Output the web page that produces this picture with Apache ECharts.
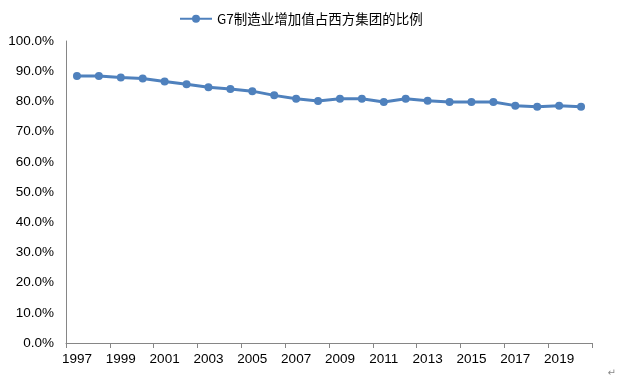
<!DOCTYPE html>
<html>
<head>
<meta charset="utf-8">
<script src="https://cdn.jsdelivr.net/npm/echarts@6/dist/echarts.min.js"></script>
<style>html,body{margin:0;padding:0;background:#fff;}#c{width:618px;height:380px;}</style>
</head>
<body>
<div id="c"></div>
<script>
var years = ['1997','1998','1999','2000','2001','2002','2003','2004','2005','2006','2007','2008','2009','2010','2011','2012','2013','2014','2015','2016','2017','2018','2019','2020'];
var seriesName = 'G7制造业增加值占西方集团的比例';
var shareValues = [88.4,88.4,87.9,87.6,86.6,85.7,84.7,84.1,83.4,82.0,80.9,80.1,80.9,80.9,79.8,80.9,80.2,79.8,79.8,79.8,78.6,78.2,78.6,78.2];
var yMin = 0, yMax = 100, yStep = 10;

var chart = echarts.init(document.getElementById('c'), null, {renderer: 'canvas'});
chart.setOption({
  animation: false,
  backgroundColor: '#ffffff',
  legend: {
    top: 7,
    left: 174,
    itemWidth: 32,
    itemHeight: 10,
    textStyle: {fontFamily: '"Noto Sans CJK SC", sans-serif', fontSize: 13.5, color: '#000'},
    data: [seriesName]
  },
  grid: {left: 66, right: 26, top: 41, bottom: 37, containLabel: false},
  xAxis: {
    type: 'category',
    data: years,
    boundaryGap: true,
    axisLine: {lineStyle: {color: '#868686', width: 1}},
    axisTick: {show: true, interval: 1, length: 5, inside: false, lineStyle: {color: '#868686'}},
    axisLabel: {interval: 1, margin: 9, color: '#000', fontFamily: '"Liberation Sans", Arial, sans-serif', fontSize: 13.5}
  },
  yAxis: {
    type: 'value',
    min: yMin, max: yMax, interval: yStep,
    axisLine: {show: true, lineStyle: {color: '#868686', width: 1}},
    axisTick: {show: false},
    splitLine: {show: false},
    axisLabel: {margin: 12, color: '#000', fontFamily: '"Liberation Sans", Arial, sans-serif', fontSize: 13.5,
      formatter: function (v) { return v.toFixed(1) + '%'; }}
  },
  series: [{
    name: seriesName,
    type: 'line',
    data: shareValues,
    symbol: 'circle',
    symbolSize: 8,
    itemStyle: {color: '#4F81BD'},
    lineStyle: {color: '#4F81BD', width: 3}
  }],
  graphic: [{
    type: 'text', right: 2, bottom: 2,
    style: {text: '↵', fontSize: 10, fill: '#888', fontFamily: 'DejaVu Sans'}
  }]
});
</script>
</body>
</html>
